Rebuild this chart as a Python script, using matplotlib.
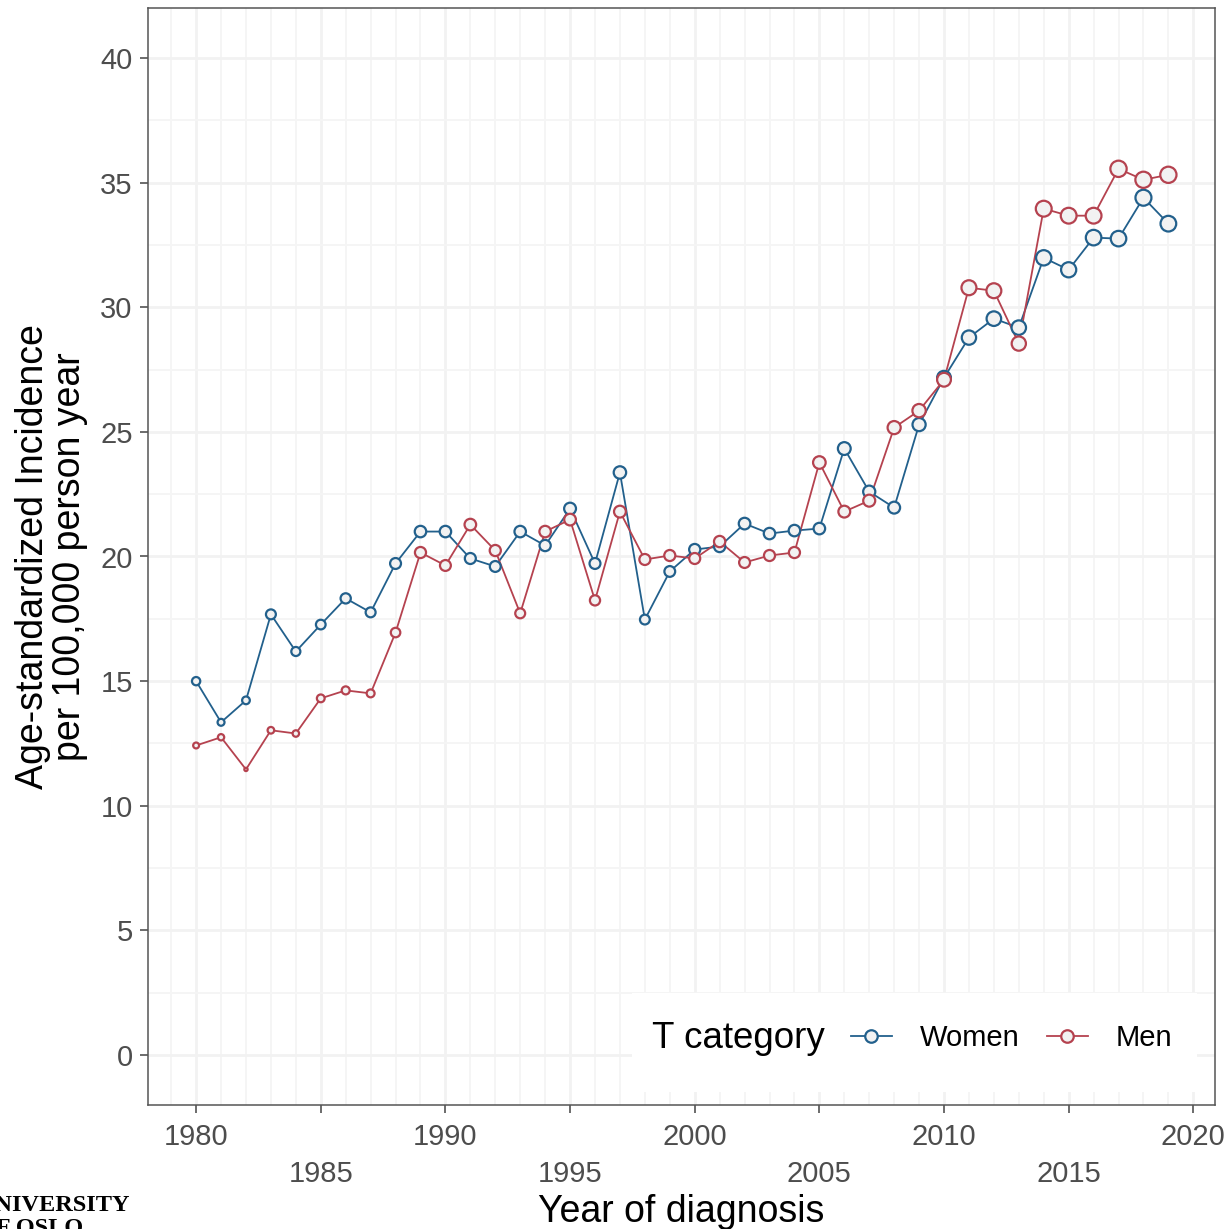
import matplotlib
matplotlib.use("Agg")
import matplotlib.pyplot as plt
from matplotlib.lines import Line2D
from matplotlib.patches import Rectangle
from matplotlib.ticker import MultipleLocator
import numpy as np

plt.rcParams['font.family'] = ['Liberation Sans', 'DejaVu Sans']

# data
years = list(range(1980, 2020))
women = [15.0, 13.35, 14.23, 17.68, 16.19, 17.27, 18.32, 17.76, 19.72, 21.0,
         21.0, 19.92, 19.6, 21.0, 20.44, 21.92, 19.72, 23.37, 17.47, 19.4,
         20.28, 20.4, 21.32, 20.92, 21.04, 21.12, 24.33, 22.6, 21.96, 25.29,
         27.17, 28.78, 29.54, 29.18, 31.98, 31.5, 32.79, 32.75, 34.39, 33.35]
men = [12.42, 12.75, 11.46, 13.03, 12.9, 14.31, 14.63, 14.51, 16.95, 20.16,
       19.64, 21.28, 20.24, 17.72, 21.0, 21.48, 18.24, 21.8, 19.88, 20.04,
       19.92, 20.6, 19.76, 20.04, 20.16, 23.77, 21.8, 22.24, 25.17, 25.85,
       27.09, 30.78, 30.66, 28.54, 33.95, 33.67, 33.67, 35.55, 35.11, 35.31]
series_names = ['Women', 'Men']
colors = ['#22608c', '#b5424f']
fill = '#f2f2f2'
xticks = list(range(1980, 2021, 5))
yticks = list(range(0, 41, 5))

W, H = 1230, 1229
fig = plt.figure(figsize=(W / 100, H / 100), dpi=100)
ax = fig.add_axes([148 / W, 124 / H, 1067 / W, 1097 / H])

# marker size grows with the value (ggplot-style area scale)
allv = np.array(women + men)
vmin, vmax = allv.min(), allv.max()


def msize(vals):
    t = (np.asarray(vals) - vmin) / (vmax - vmin)
    d_px = 5.5 + 13.0 * np.sqrt(t)
    return ((d_px - 2.2) * 0.72) ** 2


data = [women, men]
for vals, c in zip(data, colors):
    ax.plot(years, vals, color=c, lw=1.3, zorder=3)
for vals, c in zip(data, colors):
    ax.scatter(years, vals, s=msize(vals), facecolors=fill, edgecolors=c,
               linewidths=1.6, zorder=4)

ax.set_xlim(1978.07, 2020.87)
ax.set_ylim(-2, 42)
ax.set_xticks(xticks)
ax.set_xticklabels([str(y) if i % 2 == 0 else '\n' + str(y) for i, y in enumerate(xticks)])
for lab in ax.get_xticklabels():
    lab.set_linespacing(1.4)
ax.set_yticks(yticks)
ax.xaxis.set_minor_locator(MultipleLocator(1))
ax.yaxis.set_minor_locator(MultipleLocator(2.5))

ax.set_axisbelow(True)
ax.grid(True, which='major', color='#f2f2f2', lw=2.0)
ax.grid(True, which='minor', color='#f5f5f5', lw=1.4)
ax.tick_params(which='minor', length=0)
ax.tick_params(which='major', length=6, width=1.1, color='#444444',
               labelsize=21, labelcolor='#4d4d4d')
ax.tick_params(axis='x', pad=7)
ax.tick_params(axis='y', pad=5)
for sp in ax.spines.values():
    sp.set_color('#555555')
    sp.set_linewidth(1.1)

ax.set_xlabel('Year of diagnosis', fontsize=27, color='black')
ax.xaxis.set_label_coords(0.5, -0.081)
ax.set_ylabel('Age-standardized Incidence\nper 100,000 person year',
              fontsize=27, color='black', linespacing=1.05)
ax.yaxis.set_label_coords(-0.056, 0.5)

# legend, inside at bottom right on a white box
ax.add_patch(Rectangle((632 / W, 1 - 1092 / H), (1197 - 632) / W, (1092 - 993) / H,
                       transform=fig.transFigure, facecolor='white',
                       edgecolor='none', zorder=1))
fig.text(652 / W, 1 - 1038 / H, 'T category', fontsize=26.5, va='center',
         ha='left', color='black')
handles = [Line2D([0], [0], color=c, lw=1.3, marker='o', ms=9, mfc=fill,
                  mec=c, mew=1.6) for c in colors]
ax.legend(handles, series_names, ncol=2, loc='center left',
          bbox_to_anchor=(851 / W, 1 - 1038 / H), bbox_transform=fig.transFigure,
          frameon=False, fontsize=21, handlelength=1.4, handletextpad=0.95,
          columnspacing=0.95, borderpad=0, borderaxespad=0)

# cut-off logo text at the bottom left
fig.text(-23 / W, 1 - 1234 / H, 'UNIVERSITY\nOF OSLO', fontsize=17.5,
         family='Liberation Serif', weight='bold', ha='left', va='baseline',
         linespacing=1.15, color='black')

fig.savefig('out.png', dpi=100)
